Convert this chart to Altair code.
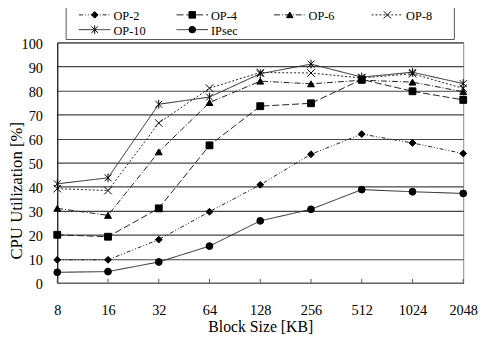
import altair as alt
import pandas as pd

blocks = ["8", "16", "32", "64", "128", "256", "512", "1024", "2048"]
series = ["OP-2", "OP-4", "OP-6", "OP-8", "OP-10", "IPsec"]
op2 = [9.6, 9.6, 18.0, 29.6, 40.8, 53.5, 61.9, 58.2, 53.8]
op4 = [20.0, 19.2, 31.0, 57.2, 73.5, 74.7, 84.6, 79.7, 76.1]
op6 = [31.0, 28.1, 54.5, 75.0, 83.9, 82.8, 84.3, 83.5, 79.5]
op8 = [39.2, 38.4, 66.5, 81.0, 87.5, 87.3, 85.2, 87.0, 80.9]
op10 = [41.2, 43.7, 74.3, 77.3, 87.0, 91.0, 85.6, 87.6, 82.9]
ipsec = [4.4, 4.7, 8.7, 15.3, 25.8, 30.6, 38.8, 37.9, 37.2]
y_ticks = [0, 10, 20, 30, 40, 50, 60, 70, 80, 90, 100]

values = [op2, op4, op6, op8, op10, ipsec]
rows = []
for s, vals in zip(series, values):
    for b, v in zip(blocks, vals):
        rows.append({"series": s, "block": b, "util": v})
df = pd.DataFrame(rows)
ticks_df = pd.DataFrame({"block": blocks})
legend_df = pd.DataFrame(
    {
        "series": series,
        "col": [i % 4 for i in range(len(series))],
        "row": [i // 4 for i in range(len(series))],
    }
)

FONT = "Liberation Serif, Times New Roman, serif"
W, H = 412, 244

dashes = [[4, 2, 1, 2, 1, 2], [7, 3], [6, 2, 1, 2], [2, 2], [1, 0], [1, 0]]
plot_shapes = [
    "diamond",
    "square",
    "triangle-up",
    "M-1.1,-1.1L1.1,1.1M-1.1,1.1L1.1,-1.1",
    "M-1,-1L1,1M-1,1L1,-1M0,-1.3L0,1.3",
    "circle",
]
dash_scale = alt.Scale(domain=series, range=dashes)
shape_scale = alt.Scale(domain=series, range=plot_shapes)

x_scale = alt.Scale(type="point", padding=0)
x_enc = alt.X(
    "block:O",
    sort=blocks,
    scale=x_scale,
    axis=alt.Axis(
        title="Block Size [KB]",
        labelAngle=0,
        ticks=False,
        tickSize=0,
        labelPadding=32,
        labelBaseline="alphabetic",
        titleY=49.5,
        titleBaseline="alphabetic",
        domainColor="#666",
        domainWidth=1.5,
        grid=False,
    ),
)
y_enc = alt.Y(
    "util:Q",
    scale=alt.Scale(domain=[0, 100], nice=False, zero=True),
    axis=alt.Axis(
        title="CPU Utilization [%]",
        values=y_ticks,
        ticks=False,
        tickSize=0,
        labelPadding=15,
        labelOffset=2,
        titleX=-36,
        titleY=150,
        titleBaseline="alphabetic",
        domainColor="#000",
        gridColor="#444",
        gridWidth=1.2,
    ),
)

lines = alt.Chart(df).mark_line(color="#222", strokeWidth=1).encode(
    x=x_enc,
    y=y_enc,
    strokeDash=alt.StrokeDash("series:N", scale=dash_scale, legend=None),
    detail="series:N",
)

points = alt.Chart(df).mark_point(
    filled=True, fill="black", stroke="black", strokeWidth=1, size=48, opacity=1
).encode(
    x=x_enc,
    y=y_enc,
    shape=alt.Shape("series:N", scale=shape_scale, legend=None),
)

tick_marks = alt.Chart(ticks_df).mark_rule(color="#555", strokeWidth=1).encode(
    x=alt.X("block:O", sort=blocks, scale=x_scale),
    y=alt.value(H),
    y2=alt.value(H - 4),
)

main = alt.layer(lines, points, tick_marks)

# ---- legend box (4 columns x 2 rows) placed above the plot area ----
leg_base = alt.Chart(legend_df).transform_calculate(
    lx0="22 + datum.col * 99",
    lx1="54 + datum.col * 99",
    mx="38 + datum.col * 99",
    tx="57 + datum.col * 99",
    ly="-28 + datum.row * 15",
)
leg_lines = leg_base.mark_rule(color="#222", strokeWidth=1).encode(
    x=alt.X("lx0:Q", scale=None, axis=None),
    x2="lx1:Q",
    y=alt.Y("ly:Q", scale=None, axis=None),
    strokeDash=alt.StrokeDash("series:N", scale=dash_scale, legend=None),
)
leg_points = leg_base.mark_point(
    filled=True, fill="black", stroke="black", strokeWidth=1, size=44, opacity=1
).encode(
    x=alt.X("mx:Q", scale=None, axis=None),
    y=alt.Y("ly:Q", scale=None, axis=None),
    shape=alt.Shape("series:N", scale=shape_scale, legend=None),
)
leg_text = leg_base.mark_text(
    align="left", baseline="middle", font=FONT, fontSize=12.5, color="black", dy=1
).encode(
    x=alt.X("tx:Q", scale=None, axis=None),
    y=alt.Y("ly:Q", scale=None, axis=None),
    text="series:N",
)
leg_box = alt.Chart(pd.DataFrame({"k": [0]})).mark_rect(
    fillOpacity=0, stroke="#555", strokeWidth=1
).encode(
    x=alt.value(9), x2=alt.value(403), y=alt.value(-39), y2=alt.value(-3)
)
legend = alt.layer(leg_box, leg_lines, leg_points, leg_text)

chart = (
    alt.layer(main, legend)
    .resolve_scale(x="independent", y="independent")
    .properties(
        width=W,
        height=H,
        autosize=alt.AutoSizeParams(type="none"),
        padding={"left": 50, "top": 32.5, "right": 16, "bottom": 56},
    )
    .configure(font=FONT)
    .configure_view(stroke="#888", strokeWidth=1)
    .configure_axis(
        labelFont=FONT,
        titleFont=FONT,
        labelFontSize=14.5,
        titleFontSize=17,
        labelColor="black",
        titleColor="black",
        titleFontWeight="normal",
    )
    .configure_axisX(titleFontSize=16)
)

chart.save("out.html", embed_options={"renderer": "svg", "actions": False})
